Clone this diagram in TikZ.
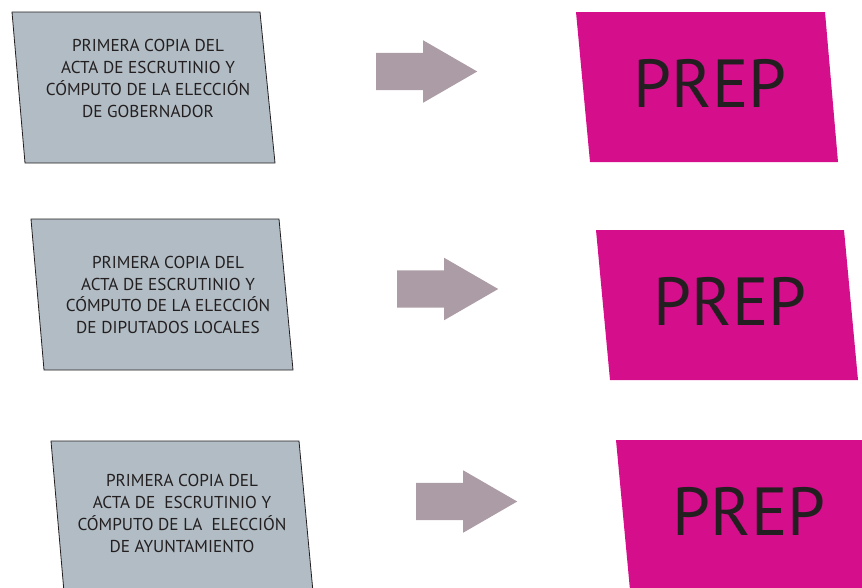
\documentclass[tikz,border=0pt]{standalone}
\usepackage{fontspec}
\setmainfont{PT Sans}
\usetikzlibrary{shapes.arrows, positioning}
\definecolor{actac}{RGB}{177,188,196}
\definecolor{flechac}{RGB}{172,156,165}
\definecolor{prepc}{RGB}{213,14,140}
\definecolor{textoc}{RGB}{35,31,32}

\begin{document}
\begin{tikzpicture}[x=1pt, y=-1pt,
    acta/.style={draw=textoc, fill=actac, line width=0.8pt},
    prepbox/.style={fill=prepc},
    txt/.style={align=center, text=textoc, inner sep=0pt,
      font=\fontsize{17.2}{21.7}\selectfont},
    preptxt/.style={text=textoc, inner sep=0pt, font=\fontsize{68}{68}\selectfont},
    flecha/.style={single arrow, fill=flechac, inner sep=0pt, text width=0pt,
      text height=37pt, text depth=0pt, minimum height=101pt,
      single arrow head extend=12.5pt, single arrow tip angle=60, anchor=tail}]
  \clip (0,0) rectangle (862,587);
  % actas
  \draw[acta] (12,12) -- (260,12) -- (275,163) -- (25,163) -- cycle;
  \draw[acta] (31,219) -- (279,219) -- (293,370) -- (44,370) -- cycle;
  \draw[acta] (51,441) -- (299,441) -- (313,592) -- (64,592) -- cycle;
  \node[txt] (t1) at (148,78.5) {PRIMERA COPIA DEL\\ACTA DE ESCRUTINIO Y\\
    CÓMPUTO DE LA ELECCIÓN\\DE GOBERNADOR};
  \node[txt] (t2) at (168,295) {PRIMERA COPIA DEL\\ACTA DE ESCRUTINIO Y\\
    CÓMPUTO DE LA ELECCIÓN\\DE DIPUTADOS LOCALES};
  \node[txt] (t3) at (182,513.5) {PRIMERA COPIA DEL\\ACTA DE\ \ ESCRUTINIO Y\\
    CÓMPUTO DE LA\ \ ELECCIÓN\\DE AYUNTAMIENTO};
  % flechas
  \foreach \n/\x/\y in {1/376/71.5, 2/397/289, 3/416/501.5}
    \node[flecha] (a\n) at (\x,\y) {};
  % PREP
  \fill[prepbox] (576,12) -- (825,12) -- (838,162) -- (590,162) -- cycle;
  \fill[prepbox] (596,230) -- (844,230) -- (858,380) -- (610,380) -- cycle;
  \fill[prepbox] (616,440) -- (864,440) -- (878,590) -- (630,590) -- cycle;
  \foreach \n/\x/\y in {1/710/83.5, 2/730/301, 3/749/511.5}
    \node[preptxt] (p\n) at (\x,\y) {PREP};
\end{tikzpicture}
\end{document}
